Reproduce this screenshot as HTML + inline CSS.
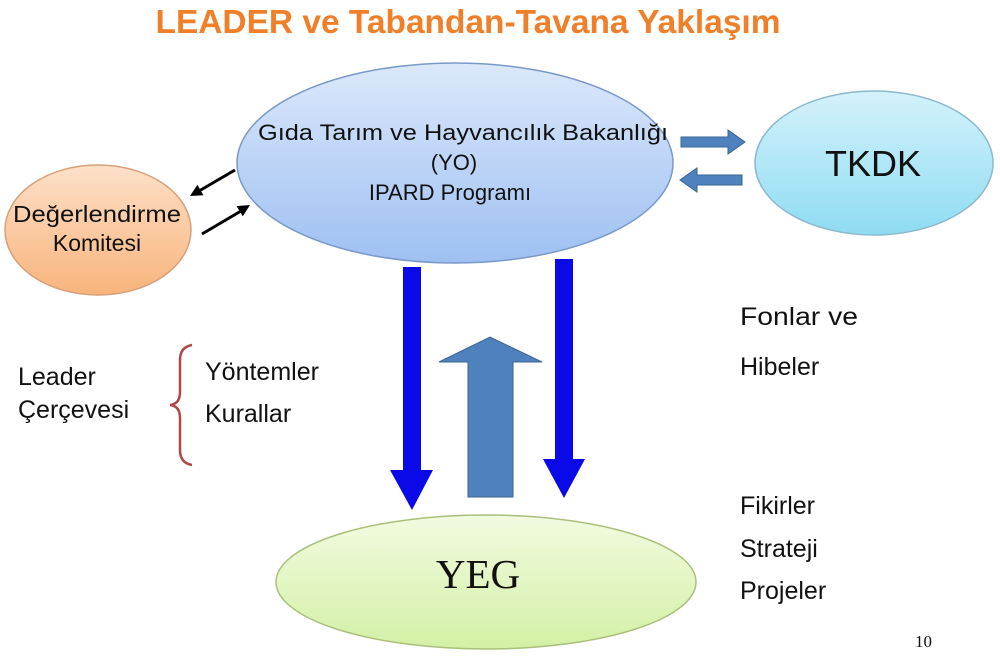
<!DOCTYPE html><html><head><meta charset="utf-8"><style>
body{margin:0;width:1000px;height:661px;background:#fff;overflow:hidden;font-family:"Liberation Sans",sans-serif}
svg{position:absolute;left:0;top:0}
</style></head><body>
<svg width="1000" height="661" viewBox="0 0 1000 661">
<defs>
<linearGradient id="gb" x1="0" y1="0" x2="0" y2="1"><stop offset="0" stop-color="#dce8fb"/><stop offset="1" stop-color="#9ec0f2"/></linearGradient>
<linearGradient id="gc" x1="0" y1="0" x2="0" y2="1"><stop offset="0" stop-color="#d4f2fb"/><stop offset="1" stop-color="#8fdcf3"/></linearGradient>
<linearGradient id="go" x1="0" y1="0" x2="0" y2="1"><stop offset="0" stop-color="#fde0c8"/><stop offset="1" stop-color="#f8b47c"/></linearGradient>
<linearGradient id="gg" x1="0" y1="0" x2="0" y2="1"><stop offset="0" stop-color="#f2fbe0"/><stop offset="1" stop-color="#d3f0a6"/></linearGradient>
</defs>
<text x="468" y="33" text-anchor="middle" font-size="33" font-weight="bold" fill="#f07f2a" textLength="625" lengthAdjust="spacingAndGlyphs">LEADER ve Tabandan-Tavana Yaklaşım</text>
<ellipse cx="455" cy="163" rx="218" ry="100" fill="url(#gb)" stroke="#7a99c8" stroke-width="1.5"/>
<text font-size="22" text-anchor="middle" fill="#111"><tspan x="463" y="140" textLength="410" lengthAdjust="spacingAndGlyphs">Gıda Tarım ve Hayvancılık Bakanlığı</tspan><tspan x="454" y="170">(YO)</tspan><tspan x="450" y="200">IPARD Programı</tspan></text>
<ellipse cx="874" cy="163" rx="119" ry="72" fill="url(#gc)" stroke="#8ab8cc" stroke-width="1.5"/>
<text x="873" y="176" text-anchor="middle" font-size="36" fill="#111">TKDK</text>
<ellipse cx="98" cy="230" rx="93" ry="65" fill="url(#go)" stroke="#d6a07a" stroke-width="1.5"/>
<text font-size="23" text-anchor="middle" fill="#111"><tspan x="97" y="222" textLength="168" lengthAdjust="spacingAndGlyphs">Değerlendirme</tspan><tspan x="97" y="251">Komitesi</tspan></text>
<ellipse cx="486" cy="582" rx="210" ry="67" fill="url(#gg)" stroke="#aac07a" stroke-width="1.5"/>
<text x="478" y="588" text-anchor="middle" font-size="41" font-family="Liberation Serif" fill="#111">YEG</text>
<polygon points="681,137 728,137 728,130 745,142 728,154 728,147 681,147" fill="#4f81bd" stroke="#3a6596"/>
<polygon points="742,175 697,175 697,168 680,180 697,192 697,185 742,185" fill="#4f81bd" stroke="#3a6596"/>
<g stroke="#000" stroke-width="3" fill="none"><line x1="235" y1="170" x2="199" y2="191"/><line x1="202" y1="234" x2="241" y2="211"/></g>
<polygon points="190,196 203.4,195.2 197.4,184.8" fill="#000"/>
<polygon points="250,205 242.8,216.3 236.6,206.1" fill="#000"/>
<polygon points="403,267 421,267 421,470 433,470 412,510 390,470 403,470" fill="#0a0ae8"/>
<polygon points="555,259 573,259 573,459 585,459 564,498 543,459 555,459" fill="#0a0ae8"/>
<polygon points="468,497 513,497 513,362 542,362 490,337 439,362 468,362" fill="#4f81bd" stroke="#3a6596"/>
<g font-size="25" fill="#111">
<text x="18" y="385">Leader</text><text x="18" y="418">Çerçevesi</text>
<text x="205" y="380">Yöntemler</text><text x="205" y="422">Kurallar</text>
<text x="740" y="325" textLength="118" lengthAdjust="spacingAndGlyphs">Fonlar ve</text><text x="740" y="375">Hibeler</text>
<text x="740" y="514">Fikirler</text><text x="740" y="557">Strateji</text><text x="740" y="599">Projeler</text>
</g>
<path d="M192,345 Q180,347 180,360 L180,392 Q180,404 170,405 Q180,406 180,418 L180,450 Q180,463 192,465" stroke="#b04848" stroke-width="2.5" fill="none"/>
<text x="915" y="647" font-size="17" font-family="Liberation Serif" fill="#111">10</text>
</svg>
</body></html>
